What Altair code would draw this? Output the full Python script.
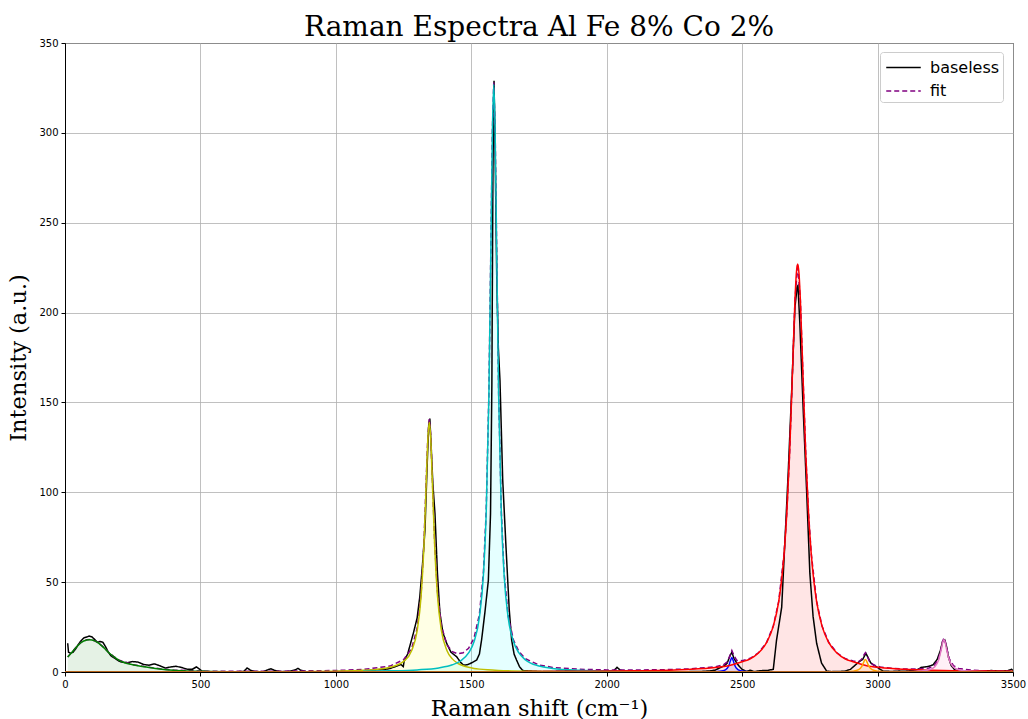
import altair as alt
import pandas as pd

# ---------------- data ----------------
base_x = [10, 13, 20, 30, 40, 50, 60, 70, 80, 90, 100, 110, 120, 130, 140, 150, 160, 170, 180, 190,
          200, 210, 230, 250, 270, 290, 310, 330, 350, 370, 390, 410, 430, 450, 470, 485, 495, 505,
          530, 560, 600, 640, 660, 672, 685, 700, 730, 745, 760, 775, 800, 830, 850, 860, 870, 890,
          950, 1000, 1050, 1100, 1150, 1180, 1200, 1220, 1240, 1249, 1252, 1265, 1286, 1300, 1310,
          1320, 1329, 1337, 1343, 1347, 1352, 1358, 1366, 1375, 1384, 1395, 1409, 1425, 1446, 1460,
          1470, 1485, 1500, 1520, 1530, 1538, 1550, 1563, 1571, 1576, 1580, 1584, 1588, 1594, 1600,
          1606, 1616, 1628, 1640, 1649, 1658, 1667, 1678, 1690, 1720, 1760, 1800, 1850, 1900, 1950,
          2000, 2025, 2038, 2050, 2070, 2100, 2150, 2200, 2204, 2210, 2260, 2300, 2350, 2380, 2400,
          2420, 2435, 2445, 2455, 2462, 2470, 2480, 2490, 2500, 2515, 2530, 2545, 2560, 2575, 2595,
          2615, 2627, 2646, 2658, 2670, 2683, 2695, 2703, 2706, 2713, 2725, 2738, 2750, 2762, 2775,
          2793, 2812, 2830, 2860, 2880, 2900, 2915, 2930, 2945, 2957, 2965, 2975, 2990, 3005, 3020,
          3050, 3080, 3100, 3130, 3150, 3160, 3175, 3190, 3205, 3220, 3232, 3240, 3248, 3255, 3262,
          3272, 3285, 3300, 3330, 3360, 3390, 3420, 3450, 3480, 3495, 3500]
base_y = [16, 11, 10.5, 11, 13, 15.5, 17.5, 19, 19.5, 20, 19.5, 18, 16.5, 17, 16.5, 14, 11, 9, 8, 7,
          6, 5.5, 5.2, 5.8, 5.5, 4.2, 3.8, 4.5, 3.5, 2.2, 2.8, 3.2, 2.5, 1.6, 1.5, 2.8, 1.8, 0.5,
          0.2, -0.3, 0.1, 0.2, 0.3, 2.2, 1.0, 0.3, 0.1, 1.0, 1.8, 0.8, 0.2, 0.4, 1.2, 2.0, 1.0, 0.2,
          -0.3, 0.2, 0.3, 0.6, 1.2, 1.4, 2.0, 3.0, 4.2, 3.0, 6.0, 10, 21.5, 30, 42,
          60, 79, 115, 138, 141, 125, 105, 88, 55, 33, 22, 16, 11, 8.5, 5.5,
          3.9, 4.0, 5.0, 6.7, 10, 17.8, 32.8, 51, 88, 160, 280, 329, 290, 220, 180,
          162, 107, 70, 35, 17.8, 10, 6.7, 3, 0.8, 0.5, 0.2, 0.3, 0.5, 0.6, 0.5,
          0.4, 0.6, 2.6, 1.0, 0.3, 0.3, 0.2, 0.3, 0.8, 0.2, 0.2, 0.2, 0.3, 0.6, 1.0,
          2.5, 3.5, 5, 9, 11, 7.5, 5, 3, 1.5, 0.3, 1.0, 0.2, 0.6, 0.8, 0.9,
          1.5, 17.8, 36, 73, 110.6, 157, 203, 214.4, 215, 194, 147.6, 101, 55, 30.8, 16,
          5, 0.5, 0.2, 0.3, 0.5, 1.5, 3.5, 5.5, 7, 10.4, 8, 5, 3.5, 2, 0.5,
          0.3, 0.5, 0.4, 0.8, 1.5, 2.5, 2.8, 3.2, 4, 7, 12, 17, 17.8, 14, 8,
          3.5, 1.2, 0.4, 0.5, 0.6, 0.5, 0.8, 0.5, 0.7, 1.5, 0.8]

fit_x = [10, 20, 40, 60, 80, 90, 100, 120, 140, 160, 180, 200, 250, 300, 350, 400, 500, 600, 800,
         1000, 1100, 1200, 1250, 1280, 1300, 1315, 1325, 1335, 1340, 1345, 1350, 1355, 1365, 1375,
         1390, 1410, 1430, 1450, 1470, 1490, 1510, 1530, 1545, 1555, 1565, 1573, 1578, 1583, 1588,
         1593, 1601, 1611, 1621, 1636, 1656, 1676, 1700, 1750, 1800, 1900, 2000, 2100, 2200, 2300,
         2400, 2430, 2445, 2455, 2462, 2470, 2480, 2500, 2530, 2560, 2590, 2615, 2635, 2655, 2665,
         2675, 2685, 2695, 2705, 2715, 2725, 2735, 2745, 2755, 2775, 2795, 2820, 2850, 2880, 2910,
         2930, 2940, 2948, 2955, 2962, 2970, 2985, 3010, 3050, 3100, 3150, 3190, 3210, 3225, 3235,
         3240, 3245, 3250, 3255, 3265, 3280, 3300, 3350, 3400, 3500]
fit_y = [8.4, 10.1, 13.6, 16.6, 17.9, 18.1, 17.9, 16.6, 14.1, 11.1, 8.6, 6.6, 4.1, 2.9, 1.8, 1.1, 0.5, 0.4, 0.45,
         0.82, 1.4, 3.3, 6.85, 13.1, 24.2, 44.2, 71, 112.8, 132.4, 140.7, 132.5, 113, 71.4, 45,
         25.4, 15.1, 11.3, 10.1, 10.7, 13.2, 18.8, 32.1, 55.9, 89.2, 155, 244, 302, 328, 302,
         244, 155, 89, 55.5, 31.3, 17.6, 11.3, 7.4, 3.9, 2.55, 1.5, 1.17, 1.1, 1.26, 1.67,
         2.87, 3.9, 5.6, 9.1, 11.9, 9.1, 6.5, 6.3, 7.6, 10.7, 16.4, 25.6, 39.3, 66.1, 88.7,
         120.9, 163.4, 206.9, 227.1, 206.9, 163.4, 120.9, 88.7, 66.1, 39.3, 25.6, 16.4, 10.7, 7.5, 6.1,
         5.8, 6.9, 9.1, 10.7, 8.7, 5.9, 3.9, 2.8, 2.04, 1.67, 1.6, 2.2, 3.7, 7.3, 13.3,
         17, 18.8, 17, 13.3, 7.3, 3.55, 1.95, 0.96, 0.65, 0.43]

green_x = [10, 20, 40, 60, 80, 90, 100, 120, 140, 160, 180, 200, 250, 300, 350, 400, 450, 500, 600]
green_y = [8.3, 10, 13.5, 16.5, 17.8, 18, 17.8, 16.5, 14, 11, 8.5, 6.5, 4.0, 2.8, 1.7, 1.0, 0.6, 0.35, 0.15]

yellow_x = [900, 1000, 1100, 1150, 1200, 1250, 1280, 1300, 1315, 1325, 1335, 1340, 1345, 1350, 1355,
            1365, 1375, 1390, 1410, 1430, 1450, 1470, 1490, 1510, 1530, 1560, 1600, 1650, 1700, 1800]
yellow_y = [0.28, 0.47, 0.92, 1.45, 2.6, 5.9, 12.0, 22.9, 42.8, 69.5, 111.2, 130.8, 139, 130.8, 111.2,
            69.5, 42.8, 22.9, 12.0, 7.3, 4.87, 3.47, 2.6, 2.0, 1.6, 1.19, 0.85, 0.6, 0.44, 0.27]

cyan_x = [1100, 1200, 1300, 1380, 1430, 1460, 1490, 1510, 1530, 1545, 1555, 1565, 1573, 1578, 1583,
          1588, 1593, 1601, 1611, 1621, 1636, 1656, 1676, 1700, 1750, 1800, 1900, 2000, 2100]
cyan_y = [0.40, 0.64, 1.18, 2.28, 4.0, 6.13, 10.6, 16.8, 30.5, 54.5, 88, 154, 243, 301, 327,
          301, 243, 154, 88, 54.5, 30.5, 16.8, 10.6, 6.75, 3.35, 2.0, 0.94, 0.54, 0.35]

blue_x = [2400, 2430, 2445, 2452, 2457, 2462, 2467, 2472, 2479, 2494, 2524]
blue_y = [0.2, 0.71, 2.06, 4, 6.4, 8, 6.4, 4, 2.06, 0.71, 0.2]

red_x = [1700, 1900, 2100, 2300, 2400, 2450, 2500, 2530, 2560, 2590, 2615, 2635, 2645, 2655, 2665,
         2675, 2685, 2695, 2700, 2705, 2710, 2715, 2725, 2735, 2745, 2755, 2765, 2775, 2795, 2820,
         2850, 2880, 2910, 2960, 3010, 3100, 3200, 3300, 3500]
red_y = [0.23, 0.36, 0.63, 1.41, 2.47, 3.52, 5.67, 7.34, 10.6, 16.3, 25.5, 39.2, 50.3, 66, 88.6,
         120.8, 163.3, 206.8, 221.6, 227, 221.6, 206.8, 163.3, 120.8, 88.6, 66, 50.3, 39.2, 25.5, 16.3,
         10.6, 7.34, 5.67, 3.52, 2.47, 1.48, 0.94, 0.65, 0.37]

orange_x = [2880, 2910, 2930, 2940, 2945, 2950, 2955, 2960, 2965, 2970, 2980, 3000, 3030]
orange_y = [0.18, 0.46, 1.31, 2.73, 4.13, 5.96, 7, 5.96, 4.13, 2.73, 1.31, 0.46, 0.18]

pink_x = [3100, 3150, 3190, 3210, 3225, 3235, 3240, 3245, 3250, 3255, 3265, 3280, 3300, 3350, 3400]
pink_y = [0.19, 0.44, 1.25, 2.8, 6.48, 12.46, 16.2, 18, 16.2, 12.46, 6.48, 2.8, 1.25, 0.36, 0.17]

brown_x = [0, 3500]
brown_y = [0.1, 0.1]

x_ticks = [0, 500, 1000, 1500, 2000, 2500, 3000, 3500]
y_ticks = [0, 50, 100, 150, 200, 250, 300, 350]

components = [
    ("green", green_x, green_y, "#008000", "#008000"),
    ("yellow", yellow_x, yellow_y, "#bfbf00", "#ffff00"),
    ("cyan", cyan_x, cyan_y, "#00bfbf", "#00ffff"),
    ("blue", blue_x, blue_y, "#0000ff", "#0000ff"),
    ("red", red_x, red_y, "#ff0000", "#ff0000"),
    ("orange", orange_x, orange_y, "#ffa500", "#ffa500"),
    ("pink", pink_x, pink_y, "#e377c2", "#ff69b4"),
    ("brown", brown_x, brown_y, "#b8651b", "#b8651b"),
]

# ---------------- chart ----------------
X = alt.X("x:Q", scale=alt.Scale(domain=[0, 3500], nice=False, zero=False),
          axis=alt.Axis(values=x_ticks, title="Raman shift (cm⁻¹)", format="d", labelFlush=False))
Y = alt.Y("y:Q", scale=alt.Scale(domain=[0, 350], nice=False),
          axis=alt.Axis(values=y_ticks, title="Intensity (a.u.)", format="d", labelFlush=False))

layers = []
for name, xs, ys, stroke, fill in components:
    d = pd.DataFrame({"x": xs, "y": ys})
    layers.append(alt.Chart(d).mark_area(clip=True, color=fill, opacity=0.1,
                                         interpolate="monotone").encode(x=X, y=Y))

lines_df = pd.concat([
    pd.DataFrame({"x": base_x, "y": base_y, "series": "baseless", "order": range(len(base_x))}),
    pd.DataFrame({"x": fit_x, "y": fit_y, "series": "fit", "order": range(len(fit_x))}),
])
legend_lines = alt.Chart(lines_df).mark_line(clip=True, strokeWidth=1.5).encode(
    x=X, y=Y, order="order:Q",
    color=alt.Color("series:N", scale=alt.Scale(domain=["baseless", "fit"], range=["#000000", "#800080"]),
                    legend=alt.Legend(title=None, orient="none", legendX=815, legendY=9,
                                      symbolType="M-1.5,0H1.5", symbolSize=530, symbolStrokeWidth=1.5,
                                      symbolOffset=8, symbolFillColor="transparent",
                                      labelFontSize=16, labelFont="DejaVu Sans", rowPadding=2.5,
                                      padding=3, fillColor="white", strokeColor="#cccccc",
                                      cornerRadius=3, labelOffset=14, labelLimit=200)),
    strokeDash=alt.StrokeDash("series:N", scale=alt.Scale(domain=["baseless", "fit"],
                                                          range=[[1, 0], [5, 3]]), legend=None),
)
layers.append(legend_lines)

for name, xs, ys, stroke, fill in components:
    d = pd.DataFrame({"x": xs, "y": ys})
    layers.append(alt.Chart(d).mark_line(clip=True, color=stroke, strokeWidth=1.5,
                                         interpolate="monotone").encode(x=X, y=Y))

chart = alt.layer(*layers).properties(
    width=948, height=629,
    title=alt.Title("Raman Espectra Al Fe 8% Co 2%", font="DejaVu Serif", fontSize=28,
                    fontWeight="normal", anchor="middle", offset=-4, color="black"),
    padding={"left": 65, "top": 43, "right": 15, "bottom": 47},
    autosize=alt.AutoSizeParams(type="none"),
).configure_view(stroke="black", strokeWidth=1).configure_axis(
    gridColor="#b0b0b0", gridWidth=0.8, domainColor="black", tickColor="black",
    labelFont="DejaVu Sans", labelFontSize=10, labelColor="black", tickSize=4,
    titleFont="DejaVu Serif", titleFontSize=22.5, titleFontWeight="normal", titleColor="black",
    labelPadding=3,
).configure_axisX(titlePadding=8).configure_axisY(titlePadding=8)

chart.save("out.html", embed_options={"renderer": "svg", "actions": False})
